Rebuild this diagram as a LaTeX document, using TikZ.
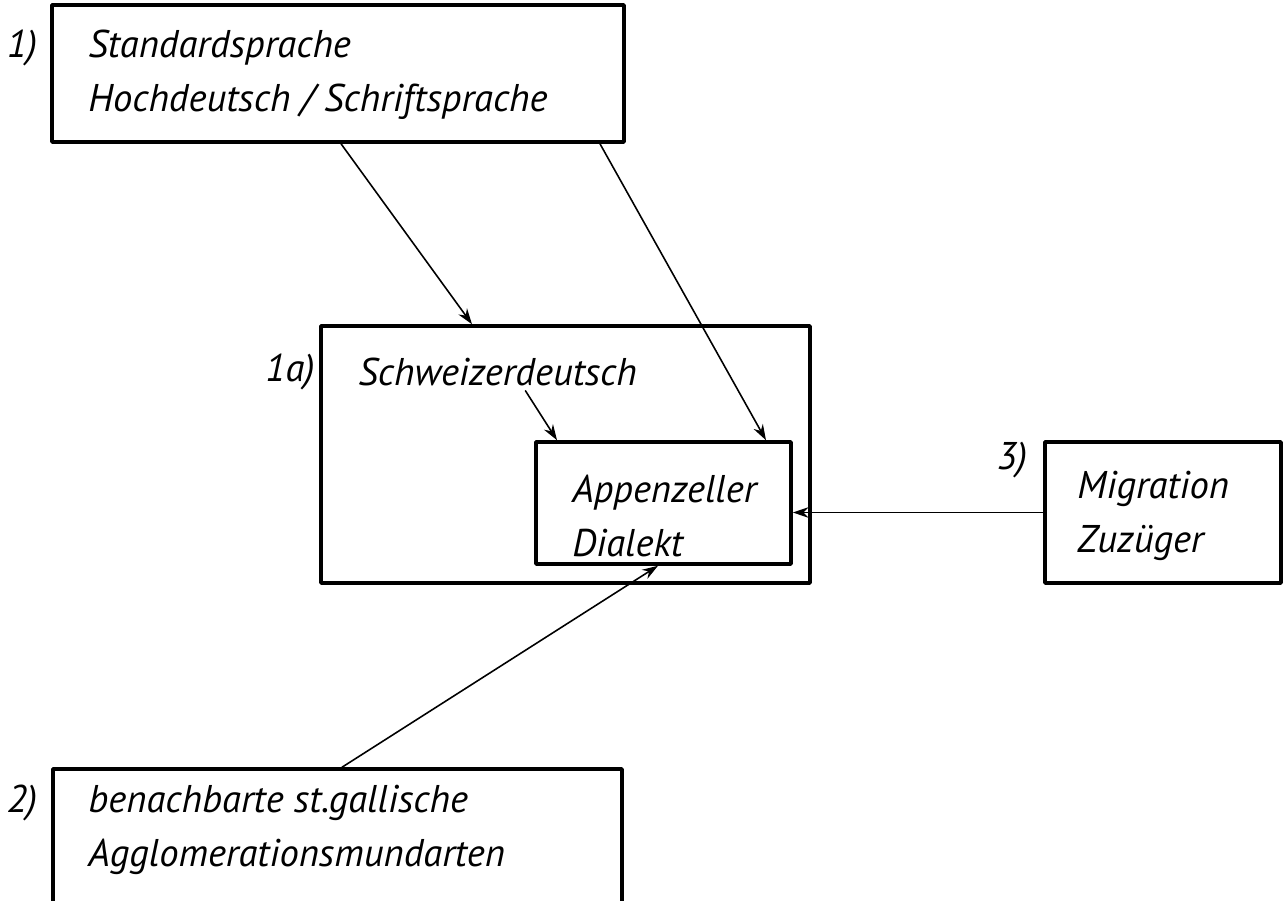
\documentclass[tikz,border=0pt]{standalone}
\usepackage{fontspec}
\setmainfont{PT Sans}
\usetikzlibrary{arrows.meta,fit}

\begin{document}
\begin{tikzpicture}[line cap=round, line join=round, x=0.02cm, y=-0.02cm,
    box/.style={draw, line width=2pt, inner sep=0pt},
    txt/.style={anchor=west, align=left, inner sep=0pt, font=\fontsize{22}{30.5}\selectfont\itshape},
    num/.style={inner sep=0pt, font=\fontsize{22}{30.5}\selectfont\itshape},
    arr/.style={-{Stealth[length=9pt,width=6pt]}, line width=0.9pt}]
    \useasboundingbox (0,0) rectangle (1287,901);
    % --- 枠 ---
    \node[box, fit={(52,5) (624,142)}] (std) {};
    \node[box, fit={(321,326) (810,583)}] (ch) {};
    \node[box, fit={(536,442) (791,564)}] (app) {};
    \node[box, fit={(1045,442) (1281,583)}] (mig) {};
    \node[box, fit={(53,769) (622,903)}] (agg) {};
    % --- 文字 ---
    \node[txt] (stdtxt) at (88,75) {Standardsprache\\Hochdeutsch / Schriftsprache};
    \node[txt] (schw) at (358,372) {Schweizerdeutsch};
    \node[txt] (apptxt) at (572,516) {Appenzeller\\Dialekt};
    \node[txt] (migtxt) at (1077,516) {Migration\\Zuzüger};
    \node[txt] (aggtxt) at (88,830) {benachbarte st.gallische\\Agglomerationsmundarten};
    % 番号
    \node[num] (n1) at (22,48) {1)};
    \node[num] (n1a) at (290,372) {1a)};
    \node[num] (n2) at (22,803) {2)};
    \node[num] (n3) at (1012,460) {3)};
    % --- 矢印 ---
    \draw[arr] ([xshift=0.06cm]std.south) -- ([xshift=-1.87cm]ch.north);
    \draw[arr] ([xshift=5.24cm]std.south) -- ([xshift=2.05cm]app.north);
    \draw[arr, shorten <=3pt] ([xshift=0.5cm]schw.south) -- ([xshift=-2.13cm]app.north);
    \draw[arr] (mig.west) -- (mig.west -| app.east);
    \draw[arr] ([xshift=0.09cm]agg.north) -- ([xshift=-0.11cm]app.south);
\end{tikzpicture}
\end{document}
